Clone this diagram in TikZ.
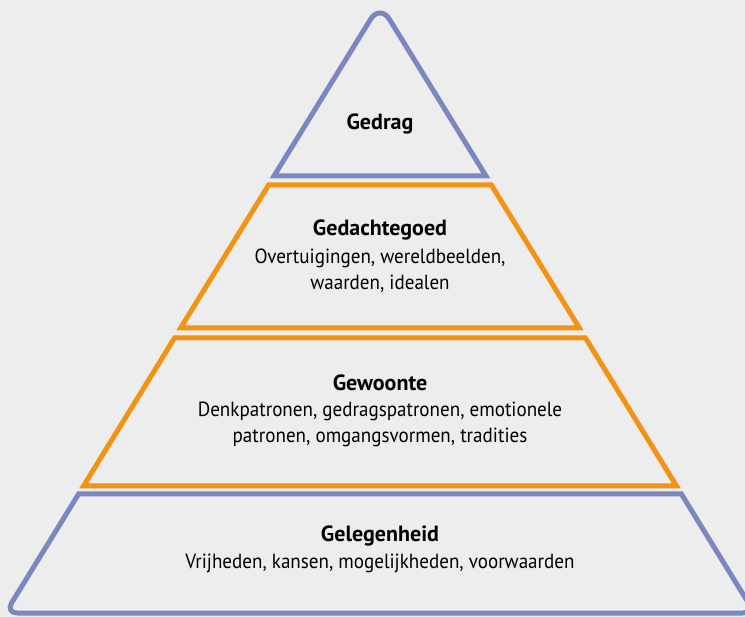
\documentclass[tikz,border=0pt]{standalone}
\usepackage{fontspec}
\setmainfont{PT Sans}[FakeStretch=0.93,BoldFeatures={FakeStretch=1.0}]
\definecolor{bgcol}{HTML}{EDEDED}
\definecolor{tierblue}{HTML}{7B88C0}
\definecolor{tierorange}{HTML}{F39314}
\begin{document}
\begin{tikzpicture}[x=1pt,y=-1pt,
  tier/.style={line width=5pt,line join=miter},
  bluetier/.style={tier,draw=tierblue},
  orangetier/.style={tier,draw=tierorange},
  label/.style={align=center,font=\fontsize{20.5}{26}\selectfont,text=black,inner sep=0pt},
  heading/.style={font=\fontsize{22}{26}\selectfont\bfseries,text=black,inner sep=0pt}]
  % canvas
  \fill[bgcol] (0,0) rectangle (745,617);
  \useasboundingbox (0,0) rectangle (745,617);
  \begin{scope}
    \clip (0,0) rectangle (745,617);
    % top: Gedrag
    \draw[bluetier] (274,176) [rounded corners=18pt]-- (380,4) [sharp corners]-- (486,176) -- cycle;
    % Gedachtegoed
    \draw[orangetier] (268.6,185) -- (491.4,185) -- (579.4,328) -- (180.6,328) -- cycle;
    % Gewoonte
    \draw[orangetier] (174.5,338) -- (585.5,338) -- (676.5,486) -- (83.5,486) -- cycle;
    % Gelegenheid
    \draw[bluetier] (78.6,494) -- (681.4,494) [rounded corners=12pt]-- (754.6,613) -- (5.4,613) [sharp corners]-- cycle;
  \end{scope}
  % texts
  \node[heading] (gedrag) at (380,124) {Gedrag};
  \node[heading] (gedachtegoed) at (380,230) {Gedachtegoed};
  \node[label] (gedachtegoedtxt) at (380,271) {Overtuigingen, wereldbeelden,\\waarden, idealen};
  \node[heading] (gewoonte) at (380,383) {Gewoonte};
  \node[label] (gewoontetxt) at (380,424) {Denkpatronen, gedragspatronen, emotionele\\patronen, omgangsvormen, tradities};
  \node[heading] (gelegenheid) at (380,536) {Gelegenheid};
  \node[label] (gelegenheidtxt) at (380,563) {Vrijheden, kansen, mogelijkheden, voorwaarden};
\end{tikzpicture}
\end{document}
